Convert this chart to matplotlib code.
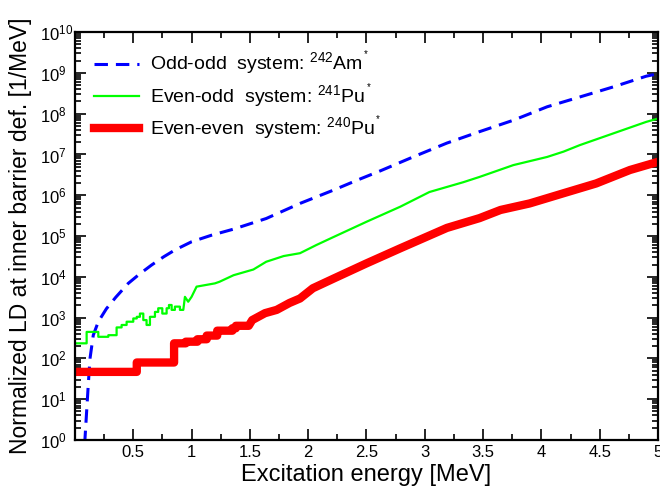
import matplotlib
matplotlib.use('Agg')
import matplotlib.pyplot as plt
import matplotlib.ticker as ticker
import numpy as np

plt.rcParams['font.family'] = ['Liberation Sans', 'DejaVu Sans']
plt.rcParams['mathtext.fontset'] = 'custom'
plt.rcParams['mathtext.rm'] = 'Liberation Sans'
plt.rcParams['mathtext.it'] = 'Liberation Sans'
plt.rcParams['mathtext.bf'] = 'Liberation Sans'

# Level densities (log10 of 1/MeV) versus excitation energy (MeV)
e_am = [0.083, 0.10, 0.115, 0.129, 0.157, 0.20, 0.27, 0.35, 0.457, 0.55, 0.657,
        0.76, 0.858, 1.0, 1.17, 1.36, 1.64, 1.93, 2.22, 2.42, 2.62, 2.9, 3.19,
        3.47, 3.76, 4.05, 4.33, 4.62, 4.9, 5.0]
ld_am = [-0.1, 0.7, 1.4, 2.0, 2.57, 2.9, 3.22, 3.5, 3.84, 4.06, 4.29,
         4.49, 4.66, 4.86, 5.02, 5.17, 5.43, 5.8, 6.13, 6.37, 6.6, 6.94, 7.28,
         7.56, 7.84, 8.17, 8.41, 8.66, 8.92, 8.98]

e_pu241 = [0.0, 0.10, 0.10, 0.20, 0.20, 0.286, 0.286, 0.357, 0.357, 0.40, 0.40,
           0.443, 0.443, 0.50, 0.50, 0.53, 0.53, 0.557, 0.557, 0.586, 0.586,
           0.614, 0.614, 0.643, 0.643, 0.686, 0.686, 0.714, 0.714, 0.749, 0.749,
           0.786, 0.786, 0.806, 0.806, 0.829, 0.829, 0.857, 0.857, 0.90, 0.90,
           0.929, 0.943, 0.971, 1.0, 1.043, 1.2, 1.24, 1.36, 1.53, 1.64, 1.79,
           1.93, 2.07, 2.22, 2.5, 2.79, 3.04, 3.33, 3.47, 3.76, 4.05, 4.19,
           4.33, 4.62, 4.9, 5.0]
ld_pu241 = [2.37, 2.37, 2.65, 2.65, 2.53, 2.53, 2.57, 2.57, 2.76, 2.76, 2.82,
            2.82, 2.9, 2.9, 2.98, 2.98, 3.02, 3.02, 3.1, 3.1, 2.94,
            2.94, 2.82, 2.82, 3.02, 3.02, 3.14, 3.14, 3.23, 3.23, 3.1,
            3.1, 3.23, 3.23, 3.31, 3.31, 3.19, 3.19, 3.27, 3.27, 3.19,
            3.19, 3.51, 3.39, 3.51, 3.76, 3.84, 3.88, 4.04, 4.18, 4.37, 4.51,
            4.58, 4.78, 4.98, 5.35, 5.72, 6.08, 6.32, 6.45, 6.74, 6.94, 7.07,
            7.23, 7.52, 7.8, 7.88]

e_pu240 = [0.0, 0.53, 0.53, 0.85, 0.85, 0.95, 0.95, 1.05, 1.05, 1.13, 1.13,
           1.22, 1.22, 1.35, 1.35, 1.38, 1.38, 1.49, 1.52, 1.63, 1.73, 1.84,
           1.93, 2.04, 2.22, 2.5, 2.79, 3.19, 3.47, 3.65, 3.9, 4.19, 4.47, 4.76,
           5.0]
ld_pu240 = [1.67, 1.67, 1.9, 1.9, 2.37, 2.37, 2.41, 2.41, 2.47, 2.47, 2.56,
            2.56, 2.68, 2.68, 2.74, 2.74, 2.8, 2.8, 2.94, 3.11, 3.19, 3.36,
            3.47, 3.72, 3.96, 4.33, 4.7, 5.2, 5.44, 5.64, 5.8, 6.05, 6.29, 6.62,
            6.82]

labels = [r'Odd-odd  system: $^{242}$Am$^{^*}$',
          r'Even-odd  system: $^{241}$Pu$^{^*}$',
          r'Even-even  system: $^{240}$Pu$^{^*}$']

fig = plt.figure(figsize=(6.6, 4.92), dpi=100)
ax = fig.add_axes([0.1136, 0.1057, 0.8833, 0.829])

ax.plot(e_am, 10**np.array(ld_am), color='#0000ff', lw=2.2,
        dashes=(4.4, 2.6), label=labels[0])
ax.plot(e_pu241, 10**np.array(ld_pu241), color='#00ff00', lw=1.6,
        label=labels[1])
ax.plot(e_pu240, 10**np.array(ld_pu240), color='#ff0000', lw=6,
        label=labels[2])

ax.set_yscale('log')
ax.set_xlim(0, 5)
ax.set_ylim(1, 1e10)
ax.set_xticks([0.5, 1, 1.5, 2, 2.5, 3, 3.5, 4, 4.5, 5])
ax.xaxis.set_major_formatter(ticker.FormatStrFormatter('%g'))
ax.xaxis.set_minor_locator(ticker.MultipleLocator(0.25))
ax.yaxis.set_major_locator(ticker.LogLocator(base=10, numticks=12))
ax.yaxis.set_minor_locator(ticker.LogLocator(base=10, subs=np.arange(2, 10), numticks=12))
ax.yaxis.set_minor_formatter(ticker.NullFormatter())

ax.tick_params(which='both', direction='in', top=True, right=True, width=1.2,
               labelsize=12)
ax.tick_params(which='major', length=8)
ax.tick_params(which='minor', length=4)
ax.tick_params(axis='y', which='major', pad=25)
for t in ax.get_yticklabels():
    t.set_horizontalalignment('left')
for s in ax.spines.values():
    s.set_linewidth(1.6)

ax.set_xlabel('Excitation energy [MeV]', fontsize=17, labelpad=3)
ax.set_ylabel('Normalized LD at inner barrier def. [1/MeV]', fontsize=16.5)
ax.yaxis.set_label_coords(-0.074, 0.5)

leg = ax.legend(loc='upper left', bbox_to_anchor=(0.003, 1.002), frameon=False,
                fontsize=14, handlelength=2.3, handletextpad=0.55,
                labelspacing=0.14, borderaxespad=0.5)

fig.savefig('out.png', dpi=100)
